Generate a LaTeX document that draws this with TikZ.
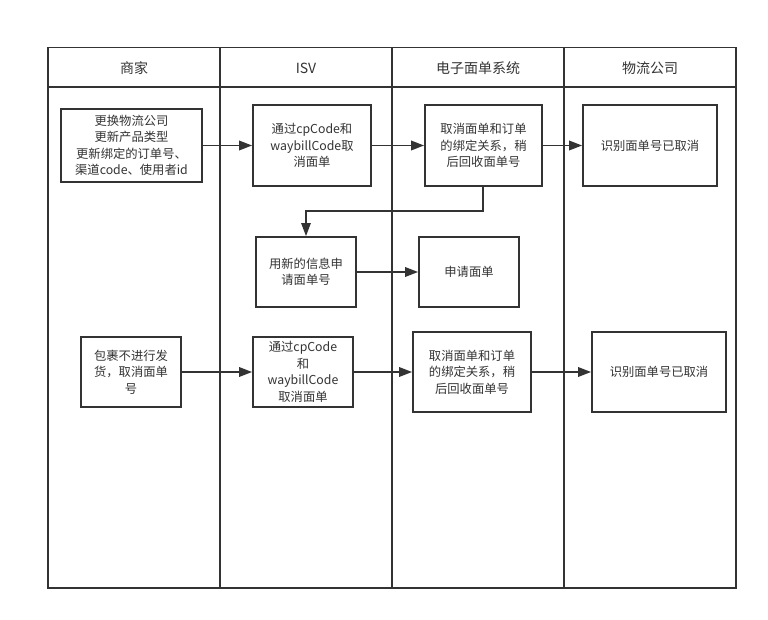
\documentclass[tikz,border=0pt]{standalone}
\usepackage{fontspec}
\setmainfont{Noto Sans CJK SC}
\usetikzlibrary{arrows.meta}
\definecolor{ln}{HTML}{333333}
\begin{document}
\begin{tikzpicture}[x=1pt,y=-1pt,
  box/.style={draw=ln,line width=1.8pt,fill=white,align=center,inner sep=2pt,
    font=\fontsize{12.3}{16.5}\selectfont,text=ln},
  hdr/.style={font=\fontsize{14}{16}\selectfont,text=ln},
  arr/.style={draw=ln,line width=1.8pt,-{Triangle[length=13pt,width=9.5pt]}},
  frame/.style={draw=ln,line width=1.8pt}]
\useasboundingbox (0,0) rectangle (768,620);
% lanes
\draw[frame] (48,47.5) rectangle (736,588);
\draw[frame] (48,87) -- (736,87);
\foreach \x in {220,392,564} \draw[frame] (\x,47.5) -- (\x,588);
\node[hdr] (h1) at (134,68) {商家};
\node[hdr] (h2) at (306,68) {ISV};
\node[hdr] (h3) at (478,68) {电子面单系统};
\node[hdr] (h4) at (650,68) {物流公司};
% boxes
\node[box,minimum width=141pt,minimum height=73pt] (b1) at (131.5,145.5) {更换物流公司\\更新产品类型\\更新绑定的订单号、\\渠道code、使用者id};
\node[box,minimum width=118pt,minimum height=81pt] (b2) at (312,145.5) {通过cpCode和\\waybillCode取\\消面单};
\node[box,minimum width=117pt,minimum height=81pt] (b3) at (483.5,145.5) {取消面单和订单\\的绑定关系，稍\\后回收面单号};
\node[box,minimum width=134pt,minimum height=81pt] (b4) at (650,145.5) {识别面单号已取消};
\node[box,minimum width=100pt,minimum height=70pt] (b5) at (306,272) {用新的信息申\\请面单号};
\node[box,minimum width=100pt,minimum height=70pt] (b6) at (469,272) {申请面单};
\node[box,minimum width=100pt,minimum height=70pt] (b7) at (131,372) {包裹不进行发\\货，取消面单\\号};
\node[box,minimum width=100pt,minimum height=70pt] (b8) at (303,372) {通过cpCode\\和\\waybillCode\\取消面单};
\node[box,minimum width=118pt,minimum height=80pt] (b9) at (472,372) {取消面单和订单\\的绑定关系，稍\\后回收面单号};
\node[box,minimum width=134pt,minimum height=80pt] (b10) at (659,372) {识别面单号已取消};
% connectors
\draw[arr] (b1) -- (b2);
\draw[arr] (b2) -- (b3);
\draw[arr] (b3) -- (b4);
\coordinate (c1) at (483,211);
\coordinate (c2) at (306,211);
\draw[draw=ln,line width=1.2pt,-{Triangle[length=13pt,width=9.5pt]}] (b3.south -| c1) -- (c1) -- (c2) -- (b5.north);
\draw[arr] (b5) -- (b6);
\draw[arr] (b7) -- (b8);
\draw[arr] (b8) -- (b9);
\draw[arr] (b9) -- (b10);
\end{tikzpicture}
\end{document}
